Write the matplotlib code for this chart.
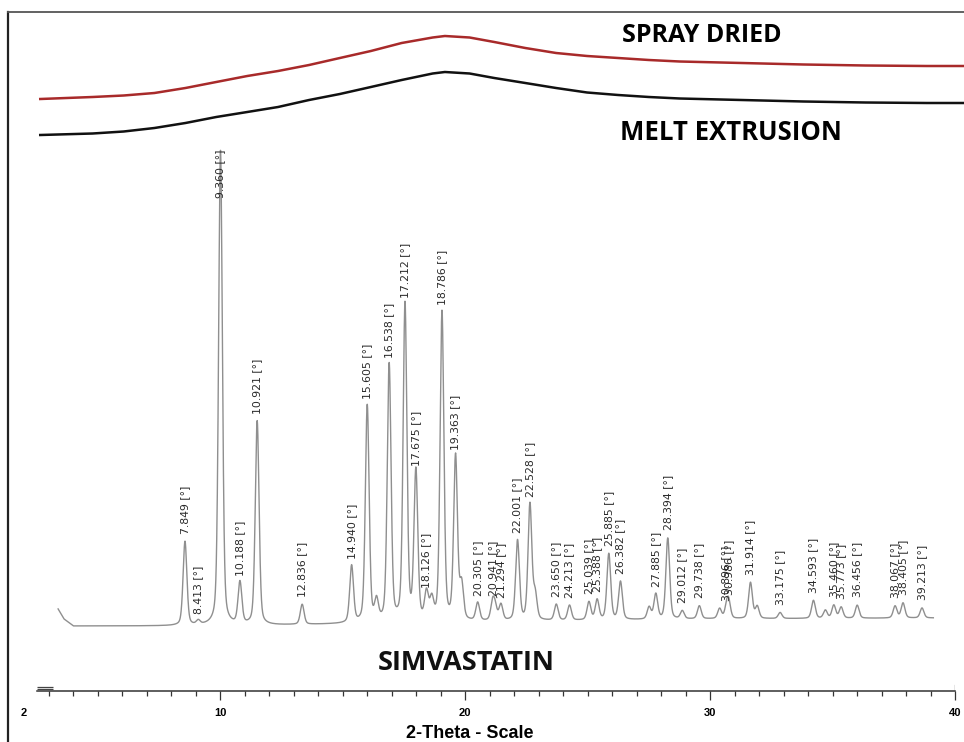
import numpy as np
import matplotlib
matplotlib.use("Agg")
import matplotlib.pyplot as plt

# ---------------- data ----------------
# Simvastatin crystalline pattern: peak positions (2-theta, deg) and heights above background
peak_pos = [7.849, 8.413, 9.360, 10.188, 10.921, 12.836, 14.940, 15.605, 16.538, 17.212,
            17.675, 18.126, 18.786, 19.363, 20.305, 20.941, 21.294, 22.001, 22.528, 23.650,
            24.213, 25.039, 25.388, 25.885, 26.382, 27.885, 28.394, 29.012, 29.738, 30.896,
            30.986, 31.914, 33.175, 34.593, 35.460, 35.773, 36.456, 38.067, 38.405, 39.213]
peak_int = [84, 4, 475, 42, 204, 20, 57, 217, 257, 317,
            149, 27, 309, 164, 18, 18, 16, 80, 116, 16,
            15, 18, 20, 66, 38, 25, 81, 8, 13, 10,
            16, 36, 6, 18, 13, 11, 13, 12, 15, 10]
peak_labels = ["%.3f [°]" % p for p in peak_pos]

# small unlabelled reflections / shoulders
minor_pos = [16.00, 18.35, 19.62, 21.05, 22.75, 27.60, 30.60, 32.20, 35.10]
minor_int = [20, 20, 35, 12, 25, 12, 10, 12, 8]

# background of the simvastatin trace
bg_pos = [2.45, 2.70, 3.10, 10.0, 20.0, 30.0, 39.7]
bg_val = [18, 8, 1, 1, 5, 8, 9]

# amorphous halos (2-theta, stacked intensity)
halo_pos = [1.69, 3.92, 5.24, 6.55, 7.87, 9.18, 10.50, 11.81, 13.13, 14.44, 15.76, 17.07,
            18.39, 18.91, 19.96, 21.01, 22.33, 23.64, 24.96, 26.28, 27.59, 28.90, 31.54,
            34.17, 36.80, 39.42, 41.10]
spray_dried = [528, 530, 531.5, 534, 539, 545, 551, 556, 562, 569, 576, 584,
               589.5, 591, 589.5, 585, 579, 574, 571, 569, 567, 565.5, 564,
               562.5, 561.5, 561, 561]
melt_extrusion = [492, 493.5, 495.5, 499, 504, 510, 515, 520, 527, 533, 540, 547,
                  553.5, 555, 553.5, 549, 544, 539, 534.5, 532, 530, 528.5, 527,
                  525.5, 524.5, 524, 524]

scale_major = [2, 10, 20, 30, 40]
scale_minor = list(range(3, 40))

# ---------------- figure ----------------
W, H, DPI = 964, 742, 100
fig = plt.figure(figsize=(W / DPI, H / DPI), dpi=DPI)
fig.patch.set_facecolor("white")

# outer frame (top and left edges only)
fr = fig.add_axes([8 / W, 0, 1 - 8 / W, (H - 12) / H])
fr.set_xticks([]); fr.set_yticks([])
fr.patch.set_visible(False)
fr.spines["right"].set_visible(False)
fr.spines["bottom"].set_visible(False)
fr.spines["top"].set_color("#555555"); fr.spines["top"].set_linewidth(1.3)
fr.spines["left"].set_color("#222222"); fr.spines["left"].set_linewidth(1.6)

# main plotting axes (units ~ pixels in y, degrees in x)
ax = fig.add_axes([0, 0, 1, 1])
ax.set_xlim(-0.023, 41.0)
ax.set_ylim(627 - H, 627)
ax.axis("off")

# simvastatin trace
tt = np.arange(bg_pos[0], bg_pos[-1], 0.005)
prof = np.interp(tt, bg_pos, bg_val).astype(float)
fw = 0.19
eta = 0.35
def add_peaks(prof, pos, hts):
    for p, h in zip(pos, hts):
        d = (tt - p) / (fw / 2)
        g = np.exp(-np.log(2) * d ** 2)
        l = 1.0 / (1.0 + d ** 2)
        prof = prof + h * ((1 - eta) * g + eta * l)
    return prof
prof = add_peaks(prof, peak_pos, peak_int)
prof = add_peaks(prof, minor_pos, minor_int)
ax.plot(tt, prof, color="#8f8f8f", lw=1.0, zorder=3)

# peak labels
cap = 627 - 150
label_len = 58
for p, h, lab in zip(peak_pos, peak_int, peak_labels):
    y = np.interp(p, bg_pos, bg_val) + h + 8
    if y + label_len > cap:
        ax.text(p, cap, lab, rotation=90, ha="center", va="top", fontsize=7.8,
                color="#2a2a2a", family="DejaVu Sans", zorder=4)
    else:
        ax.text(p, y, lab, rotation=90, ha="center", va="bottom", fontsize=7.8,
                color="#2a2a2a", family="DejaVu Sans", zorder=4)

# amorphous halos
ax.plot(halo_pos, spray_dried, color="#a82a2a", lw=1.8, zorder=3)
ax.plot(halo_pos, melt_extrusion, color="#111111", lw=1.8, zorder=3)

# titles
title_font = ["Open Sans", "DejaVu Sans"]
fig.text(701.5 / W, 1 - 35 / H, "SPRAY DRIED", ha="center", va="center",
         fontsize=18, fontweight="bold", family=title_font)
fig.text(730.5 / W, 1 - 132 / H, "MELT EXTRUSION", ha="center", va="center",
         fontsize=18.5, fontweight="bold", family=title_font)
fig.text(466.5 / W, 1 - 663 / H, "SIMVASTATIN", ha="center", va="center",
         fontsize=19.5, fontweight="bold", family=title_font, color="#111111")

# bottom 2-theta scale
sc = fig.add_axes([24 / W, (H - 691) / H, 931 / W, 8 / H])
sc.set_xlim(2, 40)
sc.patch.set_visible(False)
for s in ["top", "left", "right"]:
    sc.spines[s].set_visible(False)
sc.spines["bottom"].set_bounds(2.53, 40)
sc.spines["bottom"].set_color("#333333")
sc.spines["bottom"].set_linewidth(1.1)
sc.set_yticks([])
sc.set_xticks(scale_major)
sc.set_xticklabels([str(v) for v in scale_major], fontsize=8, fontweight="bold",
                   family=["Liberation Sans", "DejaVu Sans"])
sc.set_xticks(scale_minor, minor=True)
sc.tick_params(axis="x", which="major", length=6.5, width=0.9, color="#333333", pad=6.0)
sc.tick_params(axis="x", which="minor", length=3.8, width=0.9, color="#333333")
sc.xaxis.get_major_ticks()[0].tick1line.set_visible(False)
sc.axvline(scale_major[-1], ymin=0, ymax=0.75, color="#333333", lw=0.9)
sc.hlines([0.25, 0.5], 2.53, 3.2, transform=sc.get_xaxis_transform(), color="#444444", lw=0.9)
fig.text(470 / W, 1 - 733 / H, "2-Theta - Scale", ha="center", va="center",
         fontsize=13, fontweight="bold", family=["Liberation Sans", "DejaVu Sans"])

fig.savefig("out.png", dpi=DPI, facecolor="white")
